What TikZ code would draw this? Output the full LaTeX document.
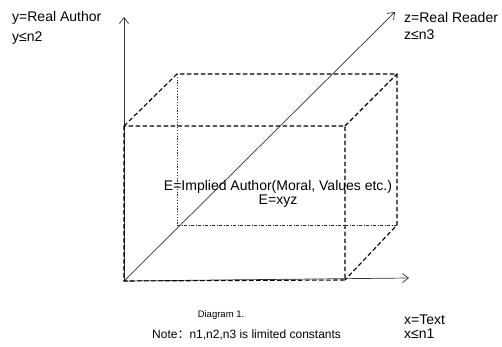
\documentclass[tikz,border=0pt]{standalone}
\usepackage{fontspec}
\setmainfont{Liberation Sans}
\newfontfamily\cjk{Noto Sans CJK SC}
\usetikzlibrary{arrows.meta}
\begin{document}
\begin{tikzpicture}[x=1pt,y=-1pt,
  axis/.style={draw=black!80,line width=0.7pt,-{Straight Barb[length=6pt,width=9pt]}},
  edge/.style={draw=black,line width=1.1pt,dash pattern=on 4.5pt off 2.5pt},
  lbl/.style={inner sep=0pt,anchor=west,font=\fontsize{14}{16}\selectfont},
  txt/.style={inner sep=0pt,font=\fontsize{14}{16}\selectfont}]
\useasboundingbox (0,0) rectangle (502,347);
% corners
\coordinate (O) at (124,281);
\coordinate (Ytip) at (124,17);
\coordinate (Xtip) at (409,278);
\coordinate (Ztip) at (395,12);
\coordinate (fTL) at (124,126);
\coordinate (fTR) at (345,126);
\coordinate (fBR) at (345,280);
\coordinate (bTL) at (177,74);
\coordinate (bTR) at (397,74);
\coordinate (bBR) at (397,225);
\coordinate (bBL) at (177,225);
% axes
\draw[axis] (O) -- (Ytip);
\draw[axis] (O) -- (Xtip);
\draw[axis] (O) -- (Ztip);
% front face
\draw[edge] (fTL) -- (O) -- (fBR) -- (fTR) -- cycle;
% back visible edges
\draw[edge] (fTL) -- (bTL) -- (bTR) -- (bBR) -- (fBR);
\draw[edge] (fTR) -- (bTR);
% hidden edges
\draw[black!85,line width=0.8pt,dash pattern=on 1.2pt off 1.6pt] (bTL) -- (bBL);
\draw[black!85,line width=0.8pt,dash pattern=on 3pt off 1.5pt on 1pt off 1.5pt] (bBL) -- (bBR);
% labels
\node[lbl] (ya) at (12,18) {y=Real Author};
\node[lbl] (yb) at (12,38) {y≤n2};
\node[lbl] (za) at (404,17) {z=Real Reader};
\node[lbl] (zb) at (404,35) {z≤n3};
\node[txt] (e1) at (278,187) {E=Implied Author(Moral, Values etc.)};
\node[txt] (e2) at (278,201) {E=xyz};
\node[inner sep=0pt,font=\fontsize{9.5}{11}\selectfont] (dg) at (221,315) {Diagram 1.};
\node[inner sep=0pt,anchor=west,font=\fontsize{12}{14}\selectfont] (nt) at (152,335) {Note{\cjk：}n1,n2,n3 is limited constants};
\node[lbl] (xa) at (404,320) {x=Text};
\node[lbl] (xb) at (404,334) {x≤n1};
\end{tikzpicture}
\end{document}
